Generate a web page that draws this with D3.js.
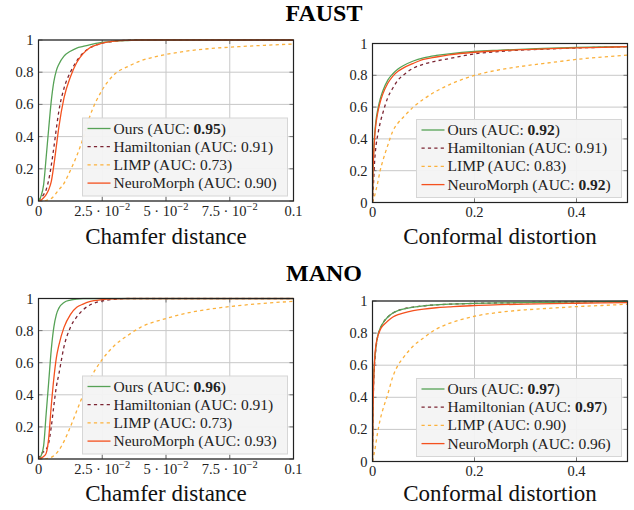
<!DOCTYPE html>
<html><head><meta charset="utf-8">
<script src="https://cdn.jsdelivr.net/npm/d3@7/dist/d3.min.js"></script>
<style>
body{margin:0;background:#fff;}
svg{display:block;}
svg text{font-family:"Liberation Serif","Times New Roman","DejaVu Serif",serif;}
</style></head>
<body><svg id="c" width="634" height="510"></svg>
<script>
// ---------- DATA ----------
const seriesNames = ["Ours", "Hamiltonian", "LIMP", "NeuroMorph"];
const datasetTitles = ["FAUST", "MANO"];
const metricLabels = ["Chamfer distance", "Conformal distortion"];

const chamferX = [0, 0.001, 0.002, 0.003, 0.004, 0.005, 0.006, 0.007, 0.008, 0.01, 0.0125, 0.015, 0.0175, 0.02, 0.025, 0.03, 0.035, 0.04, 0.05, 0.06, 0.07, 0.08, 0.09, 0.1];
const conformalX = [0, 0.001, 0.002, 0.004, 0.007, 0.01, 0.015, 0.02, 0.03, 0.04, 0.05, 0.06, 0.08, 0.1, 0.125, 0.15, 0.2, 0.25, 0.3, 0.35, 0.4, 0.45, 0.5];

const chamferTicks = [0, 0.025, 0.05, 0.075, 0.1];
const chamferTickLabels = [["0"], ["2.5 · 10", "−2"], ["5 · 10", "−2"], ["7.5 · 10", "−2"], ["0.1"]];
const conformalTicks = [0, 0.2, 0.4];
const conformalTickLabels = [["0"], ["0.2"], ["0.4"]];
const yTicks = [0, 0.2, 0.4, 0.6, 0.8, 1];
const yTickLabels = ["0", "0.2", "0.4", "0.6", "0.8", "1"];

// FAUST – Chamfer
const faustChamferOurs = [0, 0.03, 0.1, 0.27, 0.45, 0.62, 0.74, 0.81, 0.85, 0.9, 0.93, 0.95, 0.96, 0.97, 0.985, 0.993, 0.997, 1, 1, 1, 1, 1, 1, 1];
const faustChamferHam  = [0, 0.02, 0.04, 0.07, 0.13, 0.22, 0.33, 0.45, 0.56, 0.7, 0.8, 0.87, 0.92, 0.95, 0.98, 0.993, 0.998, 1, 1, 1, 1, 1, 1, 1];
const faustChamferLimp = [0, 0, 0, 0.003, 0.008, 0.015, 0.03, 0.05, 0.07, 0.11, 0.19, 0.28, 0.39, 0.52, 0.69, 0.79, 0.835, 0.87, 0.91, 0.935, 0.95, 0.96, 0.968, 0.975];
const faustChamferNM   = [0, 0.005, 0.02, 0.04, 0.07, 0.12, 0.22, 0.34, 0.46, 0.64, 0.77, 0.86, 0.915, 0.95, 0.98, 0.993, 0.998, 1, 1, 1, 1, 1, 1, 1];
const faustChamferAUC  = ["0.95", "0.91", "0.73", "0.90"];
const faustChamferBold = [true, false, false, false];

// FAUST – Conformal
const faustConfOurs = [0, 0.2, 0.3, 0.42, 0.52, 0.58, 0.65, 0.7, 0.77, 0.81, 0.84, 0.86, 0.89, 0.91, 0.925, 0.935, 0.95, 0.958, 0.965, 0.97, 0.975, 0.978, 0.98];
const faustConfHam  = [0, 0.05, 0.12, 0.25, 0.36, 0.42, 0.5, 0.56, 0.66, 0.72, 0.77, 0.8, 0.845, 0.87, 0.89, 0.905, 0.935, 0.95, 0.96, 0.966, 0.972, 0.976, 0.98];
const faustConfLimp = [0, 0.01, 0.02, 0.04, 0.08, 0.12, 0.2, 0.26, 0.36, 0.45, 0.5, 0.535, 0.6, 0.65, 0.7, 0.74, 0.8, 0.835, 0.86, 0.88, 0.9, 0.915, 0.927];
const faustConfNM   = [0, 0.2, 0.28, 0.4, 0.5, 0.56, 0.63, 0.68, 0.75, 0.795, 0.825, 0.845, 0.875, 0.9, 0.915, 0.928, 0.945, 0.955, 0.962, 0.968, 0.972, 0.976, 0.98];
const faustConfAUC  = ["0.92", "0.91", "0.83", "0.92"];
const faustConfBold = [true, false, false, true];

// MANO – Chamfer
const manoChamferOurs = [0, 0.02, 0.08, 0.28, 0.48, 0.68, 0.82, 0.9, 0.94, 0.975, 0.99, 0.997, 1, 1, 1, 1, 1, 1, 1, 1, 1, 1, 1, 1];
const manoChamferHam  = [0, 0.03, 0.045, 0.06, 0.1, 0.2, 0.33, 0.45, 0.53, 0.7, 0.82, 0.885, 0.93, 0.958, 0.985, 0.995, 1, 1, 1, 1, 1, 1, 1, 1];
const manoChamferLimp = [0, 0, 0, 0.002, 0.005, 0.01, 0.02, 0.035, 0.055, 0.11, 0.2, 0.3, 0.4, 0.49, 0.62, 0.71, 0.77, 0.82, 0.875, 0.915, 0.94, 0.958, 0.972, 0.982];
const manoChamferNM   = [0, 0.005, 0.015, 0.035, 0.13, 0.33, 0.5, 0.63, 0.71, 0.82, 0.9, 0.945, 0.965, 0.98, 0.993, 0.998, 1, 1, 1, 1, 1, 1, 1, 1];
const manoChamferAUC  = ["0.96", "0.91", "0.73", "0.93"];
const manoChamferBold = [true, false, false, false];

// MANO – Conformal
const manoConfOurs = [0, 0.35, 0.5, 0.62, 0.72, 0.78, 0.83, 0.86, 0.9, 0.925, 0.94, 0.95, 0.962, 0.97, 0.976, 0.98, 0.985, 0.988, 0.99, 0.992, 0.994, 0.996, 0.997];
const manoConfHam  = [0, 0.3, 0.46, 0.6, 0.71, 0.775, 0.825, 0.86, 0.9, 0.925, 0.94, 0.95, 0.962, 0.97, 0.976, 0.98, 0.985, 0.988, 0.99, 0.992, 0.994, 0.996, 0.997];
const manoConfLimp = [0, 0.01, 0.03, 0.06, 0.12, 0.18, 0.26, 0.32, 0.42, 0.53, 0.6, 0.645, 0.72, 0.77, 0.825, 0.86, 0.905, 0.93, 0.945, 0.955, 0.965, 0.972, 0.98];
const manoConfNM   = [0, 0.3, 0.46, 0.63, 0.73, 0.775, 0.82, 0.845, 0.875, 0.9, 0.915, 0.925, 0.94, 0.95, 0.958, 0.963, 0.972, 0.977, 0.981, 0.984, 0.986, 0.988, 0.99];
const manoConfAUC  = ["0.97", "0.97", "0.90", "0.96"];
const manoConfBold = [true, true, false, false];

// ---------- STYLE / LAYOUT ----------
const FONT = '"Liberation Serif","Times New Roman","DejaVu Serif",serif';
const styles = [
  {color: "#56a256", dash: null},
  {color: "#7b2432", dash: "3.2,3.2"},
  {color: "#fbb13c", dash: "3.2,3.2"},
  {color: "#f4511e", dash: null}
];

const panels = [
  {left: 38.5, top: 40, w: 255, h: 161, xmax: 0.1, xs: chamferX, ys: [faustChamferOurs, faustChamferHam, faustChamferLimp, faustChamferNM], auc: faustChamferAUC, bold: faustChamferBold, ticks: chamferTicks, tickLabels: chamferTickLabels, label: metricLabels[0], labelY: 244},
  {left: 372.5, top: 43.5, w: 255, h: 159, xmax: 0.5, xs: conformalX, ys: [faustConfOurs, faustConfHam, faustConfLimp, faustConfNM], auc: faustConfAUC, bold: faustConfBold, ticks: conformalTicks, tickLabels: conformalTickLabels, label: metricLabels[1], labelY: 244},
  {left: 38.5, top: 298.5, w: 255, h: 160.5, xmax: 0.1, xs: chamferX, ys: [manoChamferOurs, manoChamferHam, manoChamferLimp, manoChamferNM], auc: manoChamferAUC, bold: manoChamferBold, ticks: chamferTicks, tickLabels: chamferTickLabels, label: metricLabels[0], labelY: 501},
  {left: 372.5, top: 301, w: 255, h: 160.5, xmax: 0.5, xs: conformalX, ys: [manoConfOurs, manoConfHam, manoConfLimp, manoConfNM], auc: manoConfAUC, bold: manoConfBold, ticks: conformalTicks, tickLabels: conformalTickLabels, label: metricLabels[1], labelY: 501}
];

const svg = d3.select("#c");
function txt(sel) { return sel.append("text").attr("font-family", FONT); }

// titles
txt(svg).attr("x", 324).attr("y", 21).attr("text-anchor", "middle")
  .attr("font-size", 24).attr("font-weight", "bold").text(datasetTitles[0]);
txt(svg).attr("x", 324).attr("y", 281).attr("text-anchor", "middle")
  .attr("font-size", 24).attr("font-weight", "bold").text(datasetTitles[1]);

panels.forEach((p, pi) => {
  const g = svg.append("g").attr("transform", `translate(${p.left},${p.top})`);
  const x = d3.scaleLinear().domain([0, p.xmax]).range([0, p.w]);
  const y = d3.scaleLinear().domain([0, 1]).range([p.h, 0]);

  // grid
  g.append("g").selectAll("line").data(p.ticks).join("line")
    .attr("x1", d => x(d)).attr("x2", d => x(d)).attr("y1", 0).attr("y2", p.h)
    .attr("stroke", "#c8c8c8").attr("stroke-width", 1);
  g.append("g").selectAll("line").data(yTicks).join("line")
    .attr("y1", d => y(d)).attr("y2", d => y(d)).attr("x1", 0).attr("x2", p.w)
    .attr("stroke", "#c8c8c8").attr("stroke-width", 1);

  // inward ticks (all four sides)
  const tk = 4;
  const tg = g.append("g").attr("stroke", "#777").attr("stroke-width", 1);
  tg.selectAll(".tb").data(p.ticks).join("line").attr("x1", d => x(d)).attr("x2", d => x(d)).attr("y1", p.h).attr("y2", p.h - tk);
  tg.selectAll(".tt").data(p.ticks).join("line").attr("x1", d => x(d)).attr("x2", d => x(d)).attr("y1", 0).attr("y2", tk);
  tg.selectAll(".tl").data(yTicks).join("line").attr("y1", d => y(d)).attr("y2", d => y(d)).attr("x1", 0).attr("x2", tk);
  tg.selectAll(".tr").data(yTicks).join("line").attr("y1", d => y(d)).attr("y2", d => y(d)).attr("x1", p.w).attr("x2", p.w - tk);

  // curves
  const line = d3.line().x(d => x(d[0])).y(d => y(d[1])).curve(d3.curveMonotoneX);
  const clipId = "clip" + pi;
  g.append("clipPath").attr("id", clipId).append("rect").attr("x", 0).attr("y", -1).attr("width", p.w).attr("height", p.h + 1);
  const cg = g.append("g").attr("clip-path", `url(#${clipId})`);
  [2, 1, 0, 3].forEach(i => {
    const pts = p.xs.map((xv, k) => [xv, p.ys[i][k]]);
    cg.append("path").attr("d", line(pts)).attr("fill", "none")
      .attr("stroke", styles[i].color).attr("stroke-width", 1.3)
      .attr("stroke-dasharray", styles[i].dash);
  });

  // frame
  g.append("rect").attr("x", 0).attr("y", 0).attr("width", p.w).attr("height", p.h)
    .attr("fill", "none").attr("stroke", "#222").attr("stroke-width", 1.2);

  // y tick labels
  yTicks.forEach((d, i) => {
    txt(g).attr("x", -5).attr("y", y(d) + 5).attr("text-anchor", "end")
      .attr("font-size", 14.5).attr("fill", "#222").text(yTickLabels[i]);
  });

  // x tick labels
  p.ticks.forEach((d, i) => {
    const parts = p.tickLabels[i];
    const t = txt(g).attr("x", x(d)).attr("y", p.h + 14.5).attr("text-anchor", "middle")
      .attr("font-size", 14.5).attr("fill", "#222");
    t.append("tspan").text(parts[0]);
    if (parts.length > 1) t.append("tspan").attr("dy", -5.5).attr("font-size", 10.5).text(parts[1]);
  });

  // axis label
  txt(svg).attr("x", p.left + p.w / 2).attr("y", p.labelY).attr("text-anchor", "middle")
    .attr("font-size", 23).attr("fill", "#111").text(p.label);

  // legend
  const lw = 205, lh = 78;
  const lx = p.w - 6 - lw, ly = p.h - 5 - lh;
  const lg = g.append("g").attr("transform", `translate(${lx},${ly})`);
  lg.append("rect").attr("width", lw).attr("height", lh).attr("fill", "#f3f3f3")
    .attr("fill-opacity", 0.95).attr("stroke", "#d6d6d6").attr("stroke-width", 1);
  seriesNames.forEach((name, i) => {
    const cy = 10.5 + i * 18.2;
    lg.append("line").attr("x1", 5).attr("x2", 28).attr("y1", cy).attr("y2", cy)
      .attr("stroke", styles[i].color).attr("stroke-width", 1.3).attr("stroke-dasharray", styles[i].dash);
    const t = txt(lg).attr("x", 31).attr("y", cy + 5).attr("font-size", 15.5).attr("fill", "#222");
    t.append("tspan").text(`${name} (AUC: `);
    t.append("tspan").attr("font-weight", p.bold[i] ? "bold" : "normal").text(p.auc[i]);
    t.append("tspan").text(")");
  });
});
</script>
</body></html>
